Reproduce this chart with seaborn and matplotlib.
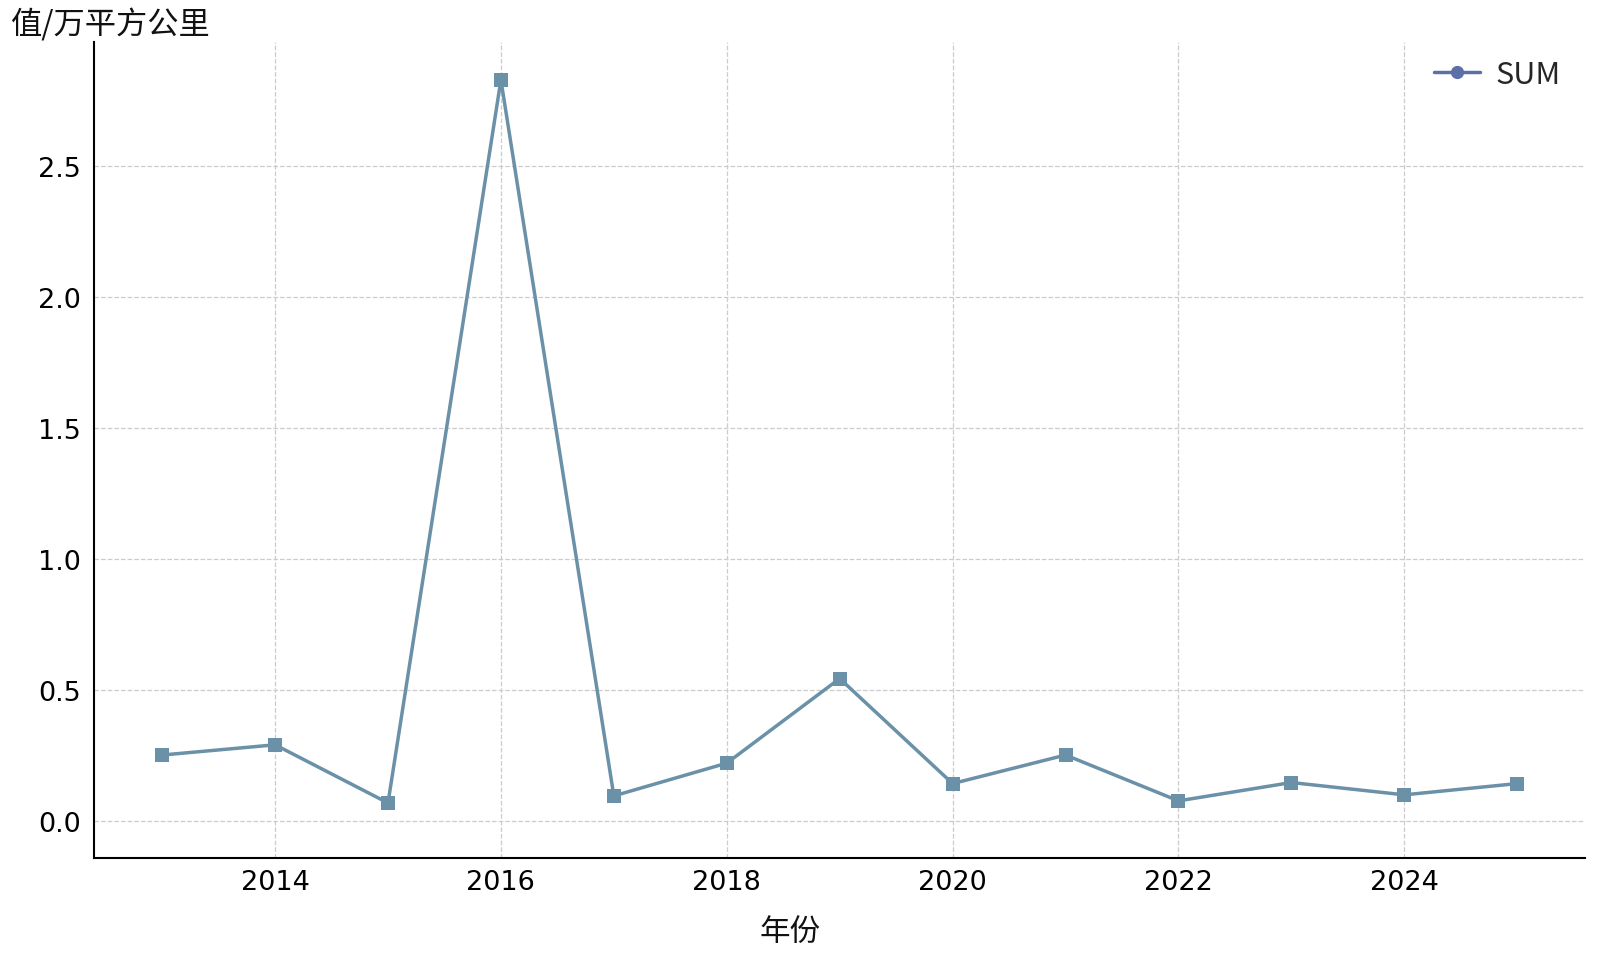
import matplotlib
matplotlib.use('Agg')

import pandas as pd
import seaborn as sns
import matplotlib.pyplot as plt
from matplotlib.lines import Line2D

# data
years = [2013, 2014, 2015, 2016, 2017, 2018, 2019, 2020, 2021, 2022, 2023, 2024, 2025]
values = [0.253, 0.292, 0.070, 2.83, 0.097, 0.222, 0.545, 0.144, 0.253, 0.078, 0.148, 0.101, 0.144]
series_name = 'SUM'
x_label = '年份'
y_label = '值/万平方公里'

df = pd.DataFrame({'year': years, 'value': values})

sns.set_style('white')
# DejaVu first for the numbers, CJK family as fallback
plt.rcParams['font.family'] = ['DejaVu Sans', 'Noto Sans CJK SC']
cjk = ['Noto Sans CJK SC', 'DejaVu Sans']

fig = plt.figure(figsize=(16, 9.54), dpi=100)
ax = fig.add_axes([0.059, 0.0996, 0.9316, 0.8554])

sns.lineplot(data=df, x='year', y='value', ax=ax, color='#6a91a7',
             linewidth=2.5, marker='s', markersize=9.5, markeredgewidth=0)

ax.set_ylim(-0.14, 2.975)
ax.set_xticks([2014, 2016, 2018, 2020, 2022, 2024])
ax.set_yticks([0.0, 0.5, 1.0, 1.5, 2.0, 2.5])
ax.set_yticklabels(['0.0', '0.5', '1.0', '1.5', '2.0', '2.5'])
ax.tick_params(labelsize=19.5, length=6, width=1.2, color='black',
               labelcolor='black')
ax.tick_params(axis='x', pad=2)
ax.tick_params(axis='y', pad=4)
ax.grid(True, linestyle='--', color='#cccccc', linewidth=0.9)

for side in ['top', 'right']:
    ax.spines[side].set_visible(False)
for side in ['left', 'bottom']:
    ax.spines[side].set_color('black')
    ax.spines[side].set_linewidth(1.5)

ax.set_xlabel(x_label, fontsize=22, va='top', family=cjk, color='#111111')
ax.xaxis.set_label_coords(0.467, -0.071)
ax.set_ylabel('')
fig.text(0.007, 0.974, y_label, fontsize=22.5, va='center', ha='left',
         family=cjk, color='#111111')

handle = Line2D([], [], color='#5b70a8', marker='o', linewidth=2.5, markersize=8.5)
ax.legend([handle], [series_name], loc='upper right', frameon=False,
          prop={'family': cjk, 'size': 22},
          handlelength=1.5, handletextpad=0.5, borderaxespad=0.15,
          bbox_to_anchor=(0.995, 1.0))

fig.savefig('out.png', dpi=100)
